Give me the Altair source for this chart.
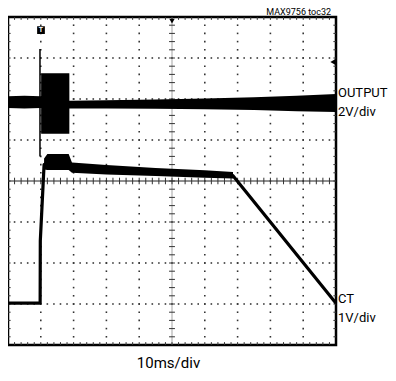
import altair as alt
import pandas as pd

# ---- data (time in ms, 10 ms/div; vertical in screen divisions 0..8) ----
# OUTPUT trace envelope (thick noisy band)
out_t  = [0,    5,    9.9,  10.1, 10.11, 18.7, 18.71, 30,   45,   60,   75,   88,   100]
out_hi = [6.07, 6.08, 6.07, 6.07, 6.63,  6.63, 5.96,  5.97, 5.99, 6.01, 6.04, 6.08, 6.12]
out_lo = [5.78, 5.77, 5.78, 5.78, 5.15,  5.15, 5.77,  5.77, 5.76, 5.75, 5.73, 5.70, 5.68]
# OUTPUT turn-on spike
spike_t = [9.75]
spike_top = [7.22]
spike_bot = [4.60]

# CT trace (centre line)
ct_t = [0,    9.8,  9.85, 11.0, 12.5, 18.5, 20.0, 30,   45,   60,   68.6, 100]
ct_v = [1.02, 1.02, 2.54, 4.40, 4.47, 4.46, 4.33, 4.28, 4.21, 4.16, 4.13, 1.02]
# CT noise envelope on the plateau
ctb_t  = [11.0, 12.0, 18.5, 19.5, 30,   45,   60,   68.6]
ctb_hi = [4.55, 4.66, 4.66, 4.45, 4.39, 4.32, 4.26, 4.22]
ctb_lo = [4.28, 4.27, 4.27, 4.20, 4.16, 4.12, 4.08, 4.06]

# graticule
major_t = [10, 20, 30, 40, 60, 70, 80, 90]
major_v = [1, 2, 3, 5, 6, 7]
minor_t = [2 * j for j in range(1, 50)]
minor_v = [round(0.2 * j, 2) for j in range(1, 40)]

# markers
trig_t, trig_v = [10.06], [7.68]
topmark_t, topmark_v = [50], [7.9]
rightmark_t, rightmark_v = [99.0], [6.9]

# labels
note_text = ["MAX9756 toc32"]
ch1_text = ["OUTPUT", "2V/div"]
ch2_text = ["CT", "1V/div"]
xdiv_text = ["10ms/div"]

FONT = "Roboto"

X = alt.Scale(domain=[0, 100], nice=False, zero=False)
Y = alt.Scale(domain=[0, 8], nice=False, zero=False)

def xe(f="t"):
    return alt.X(f"{f}:Q", scale=X, axis=None)

def ye(f="v"):
    return alt.Y(f"{f}:Q", scale=Y, axis=None)

# grid dots
dots = [{"t": t, "v": v} for t in major_t for v in minor_v] + \
       [{"t": t, "v": v} for v in major_v for t in minor_t]
grid = alt.Chart(pd.DataFrame(dots)).mark_square(size=2.5, color="#333", opacity=1).encode(
    x=xe(), y=ye())

# centre lines
hcen = alt.Chart(pd.DataFrame({"t": [0], "t2": [100], "v": [4]})).mark_rule(
    color="#222", strokeWidth=1).encode(x=xe(), x2="t2:Q", y=ye())
vcen = alt.Chart(pd.DataFrame({"t": [50], "v": [0], "v2": [8]})).mark_rule(
    color="#666", strokeWidth=0.6).encode(x=xe(), y=ye(), y2="v2:Q")

vt = []
for t in minor_t:
    vt.append({"t": t, "v": 3.92, "v2": 4.08})
    vt.append({"t": t, "v": 7.93, "v2": 8.0})
    vt.append({"t": t, "v": 0.0, "v2": 0.07})
vticks = alt.Chart(pd.DataFrame(vt)).mark_rule(color="#333", strokeWidth=1).encode(
    x=xe(), y=ye(), y2="v2:Q")
ht = []
for v in minor_v:
    ht.append({"t": 49.1, "t2": 50.9, "v": v})
    ht.append({"t": 0.0, "t2": 0.8, "v": v})
    ht.append({"t": 99.2, "t2": 100.0, "v": v})
hticks = alt.Chart(pd.DataFrame(ht)).mark_rule(color="#333", strokeWidth=1).encode(
    x=xe(), x2="t2:Q", y=ye())

# OUTPUT trace
out_df = pd.DataFrame({"t": out_t, "hi": out_hi, "lo": out_lo})
out_band = alt.Chart(out_df).mark_area(color="black", opacity=1, interpolate="linear").encode(
    x=xe(), y=alt.Y("lo:Q", scale=Y, axis=None, stack=None), y2="hi:Q")
spike = alt.Chart(pd.DataFrame({"t": spike_t, "v": spike_bot, "v2": spike_top})).mark_rule(
    color="black", strokeWidth=1.5).encode(x=xe(), y=ye(), y2="v2:Q")

# CT trace
ctb_df = pd.DataFrame({"t": ctb_t, "hi": ctb_hi, "lo": ctb_lo})
ct_band = alt.Chart(ctb_df).mark_area(color="black", opacity=1, interpolate="linear").encode(
    x=xe(), y=alt.Y("lo:Q", scale=Y, axis=None, stack=None), y2="hi:Q")
ct_df = pd.DataFrame({"t": ct_t, "v": ct_v, "i": range(len(ct_t))})
ct_line = alt.Chart(ct_df).mark_line(color="black", strokeWidth=3.2, strokeJoin="round").encode(
    x=xe(), y=ye(), order="i:Q")

# markers
trig_box = alt.Chart(pd.DataFrame({"t": trig_t, "v": trig_v})).mark_square(
    size=60, color="black", opacity=1).encode(x=xe(), y=ye())
trig_txt = alt.Chart(pd.DataFrame({"t": trig_t, "v": trig_v, "s": ["T"]})).mark_text(
    color="white", fontSize=7, fontWeight="bold", font="Arial", baseline="middle").encode(
    x=xe(), y=ye(), text="s:N")
top_m = alt.Chart(pd.DataFrame({"t": topmark_t, "v": topmark_v})).mark_point(
    shape="triangle-down", size=30, filled=True, color="black", opacity=1).encode(x=xe(), y=ye())
right_m = alt.Chart(pd.DataFrame({"t": rightmark_t, "v": rightmark_v})).mark_point(
    shape="triangle-left", size=30, filled=True, color="black", opacity=1).encode(x=xe(), y=ye())

# labels (pixel positions relative to plot area)
def label(txt, x, y, size, align="left"):
    return alt.Chart(pd.DataFrame({"s": [txt]})).mark_text(
        font=FONT, fontSize=size, color="black", align=align, baseline="alphabetic").encode(
        text="s:N", x=alt.value(x), y=alt.value(y))

labels = [
    label(note_text[0], 323, -2, 9, "right"),
    label(ch1_text[0], 330, 80, 13),
    label(ch1_text[1], 330, 99, 13),
    label(ch2_text[0], 330, 286, 13),
    label(ch2_text[1], 330, 305, 13),
    label(xdiv_text[0], 160.5, 351, 15, "center"),
]

chart = alt.layer(
    grid, vcen, hcen, vticks, hticks,
    out_band, spike, ct_band, ct_line,
    trig_box, trig_txt, top_m, right_m,
    *labels
).properties(
    width=328, height=328,
    autosize=alt.AutoSizeParams(type="none"),
    padding={"left": 0, "top": 9, "right": 52, "bottom": 28},
    background="white",
).configure_view(stroke="black", strokeWidth=2.5)

chart.save("out.html", embed_options={"renderer": "svg", "actions": False})
